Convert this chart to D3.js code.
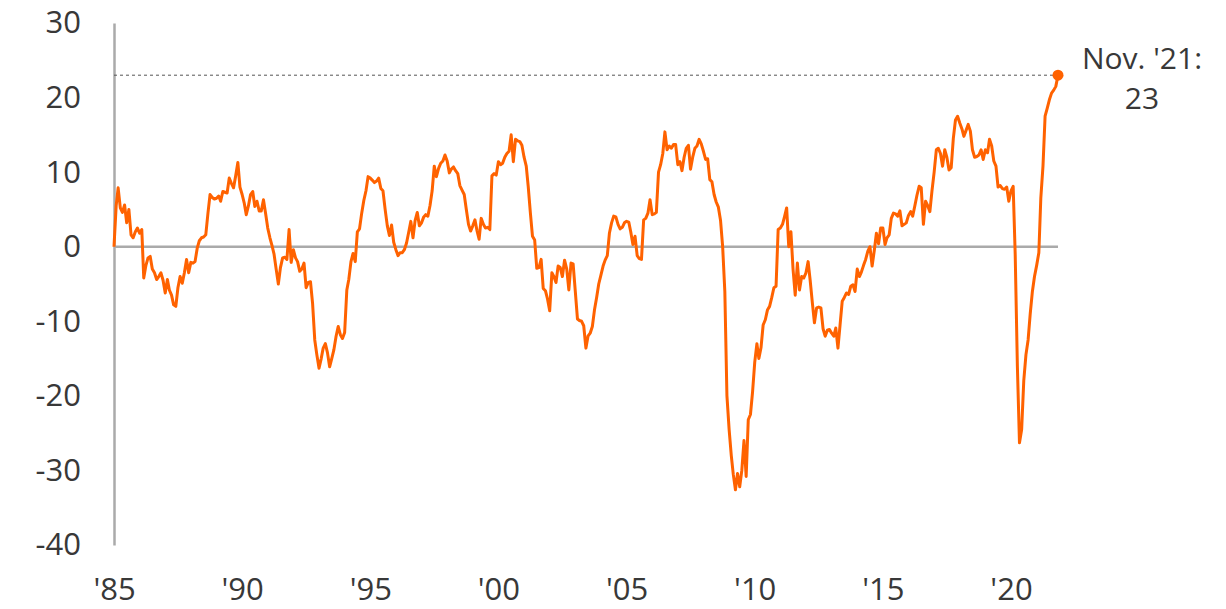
<!DOCTYPE html>
<html>
<head>
<meta charset="utf-8">
<script src="https://cdn.jsdelivr.net/npm/d3@7"></script>
<style>
  body { margin: 0; background: #fff; }
  svg { display: block; }
  svg text { font-family: "Open Sans", "Noto Sans", sans-serif; }
</style>
</head>
<body>
<script>
// monthly readings, Jan 1985 .. Nov 2021
var startYear = 1985;
var v1985 = [0, 5.5, 7.9, 5.2, 4.6, 5.6, 3.2, 5.0, 1.6, 1.2, 2.0, 2.5];
var v1986 = [1.8, 2.3, -4.2, -2.5, -1.5, -1.3, -3.0, -3.5, -4.4, -4.0, -3.5, -4.5];
var v1987 = [-6.2, -4.4, -5.8, -6.5, -7.8, -8.0, -5.5, -4.0, -4.9, -3.5, -1.7, -3.5];
var v1988 = [-2.1, -2.2, -2.0, -0.2, 0.8, 1.2, 1.3, 1.6, 4.5, 7.0, 6.6, 6.4];
var v1989 = [6.5, 6.8, 6.1, 7.4, 7.3, 7.2, 9.2, 8.5, 7.9, 9.5, 11.3, 8.0];
var v1990 = [7.0, 5.8, 4.3, 5.5, 7.0, 7.4, 5.4, 6.1, 4.8, 4.8, 6.3, 4.5];
var v1991 = [2.5, 1.2, 0.2, -1.0, -3.0, -5.0, -2.8, -1.5, -1.4, -1.7, 2.3, -2.1];
var v1992 = [-0.4, -1.5, -2.0, -3.3, -3.0, -2.2, -5.5, -4.8, -4.7, -7.6, -12.5, -14.5];
var v1993 = [-16.3, -15.0, -13.6, -13.0, -14.2, -16.1, -15.0, -13.8, -12.0, -10.7, -11.8, -12.3];
var v1994 = [-11.5, -5.8, -4.4, -2.0, -0.9, -2.0, 2.0, 2.4, 4.5, 6.2, 7.5, 9.4];
var v1995 = [9.2, 8.9, 8.6, 8.8, 9.2, 7.8, 7.5, 5.0, 2.8, 1.5, 2.9, 0.6];
var v1996 = [-0.4, -1.2, -0.8, -0.8, -0.4, 0.5, 1.9, 3.4, 1.2, 3.5, 4.6, 2.8];
var v1997 = [3.2, 4.0, 4.3, 4.1, 5.5, 7.5, 10.8, 9.4, 10.5, 11.2, 11.5, 12.3];
var v1998 = [11.5, 9.9, 10.4, 10.7, 10.2, 9.8, 8.2, 7.6, 7.0, 5.0, 3.0, 2.1];
var v1999 = [2.8, 3.6, 2.2, 1.0, 3.8, 3.0, 2.5, 2.6, 2.3, 9.5, 9.8, 9.6];
var v2000 = [11.4, 11.0, 11.2, 12.0, 12.5, 12.8, 15.0, 11.4, 14.4, 14.2, 14.1, 13.6];
var v2001 = [12.0, 10.8, 8.1, 4.5, 1.4, 0.9, -2.9, -2.8, -1.7, -5.6, -5.9, -7.0];
var v2002 = [-8.6, -3.5, -4.0, -4.8, -2.6, -2.8, -4.0, -1.8, -3.0, -5.8, -2.2, -2.3];
var v2003 = [-6.0, -9.7, -9.9, -10.0, -10.6, -13.6, -12.0, -11.6, -10.7, -8.5, -6.8, -5.0];
var v2004 = [-3.8, -2.6, -1.8, -1.2, 1.8, 3.2, 4.1, 4.0, 3.0, 2.4, 2.6, 3.2];
var v2005 = [3.4, 3.3, 2.0, 0.3, 1.4, -1.2, -1.6, -1.7, 3.6, 3.8, 4.5, 6.3];
var v2006 = [4.3, 4.4, 4.6, 10.0, 11.0, 12.5, 15.4, 13.0, 13.5, 13.2, 13.7, 13.7];
var v2007 = [11.0, 11.4, 10.2, 12.0, 13.2, 13.6, 10.4, 12.0, 13.2, 13.5, 14.4, 13.8];
var v2008 = [12.8, 11.7, 11.8, 9.0, 8.7, 7.0, 6.0, 5.3, 3.5, 0.0, -6.0, -20.0];
var v2009 = [-24.5, -28.0, -30.5, -32.6, -30.4, -32.2, -30.0, -26.0, -30.8, -23.2, -22.5, -19.5];
var v2010 = [-15.5, -13.0, -15.0, -13.5, -10.5, -9.8, -8.5, -8.0, -6.8, -5.5, -5.3, 2.3];
var v2011 = [2.5, 3.0, 4.0, 5.2, 0.0, 2.0, -3.0, -6.5, -2.2, -5.8, -4.0, -4.2];
var v2012 = [-3.5, -2.0, -4.5, -7.5, -10.2, -8.2, -8.1, -8.2, -11.0, -12.0, -11.2, -11.1];
var v2013 = [-11.6, -12.0, -10.9, -13.6, -10.5, -7.3, -6.8, -6.2, -6.4, -5.3, -5.1, -6.0];
var v2014 = [-3.0, -4.0, -3.4, -2.5, -1.7, -0.6, 0.0, -2.6, -0.5, 1.8, 0.4, 2.5];
var v2015 = [2.5, 0.3, 1.2, 1.6, 3.8, 4.5, 4.4, 4.1, 4.8, 2.8, 3.0, 3.2];
var v2016 = [4.2, 4.7, 4.1, 5.5, 6.9, 8.1, 7.9, 3.0, 6.1, 5.5, 4.7, 7.5];
var v2017 = [10.0, 13.0, 13.2, 12.5, 10.8, 13.0, 12.0, 10.3, 10.6, 14.5, 17.0, 17.5];
var v2018 = [16.6, 15.8, 14.8, 15.6, 16.4, 15.5, 13.0, 12.0, 12.1, 12.3, 13.0, 11.7];
var v2019 = [13.0, 12.6, 14.4, 13.5, 11.5, 10.8, 8.0, 8.2, 7.8, 7.7, 8.0, 6.1];
var v2020 = [7.5, 8.1, -1.0, -16.0, -26.3, -24.5, -18.0, -14.5, -12.5, -9.0, -6.0, -4.0];
var v2021 = [-2.5, -0.8, 6.5, 10.8, 17.5, 18.6, 19.7, 20.6, 21.0, 21.5, 23];

var yTicks = [-40, -30, -20, -10, 0, 10, 20, 30];
var xTickYears = [1985, 1990, 1995, 2000, 2005, 2010, 2015, 2020];
var lastLabel = ["Nov. '21:", "23"];

var allYears = [v1985, v1986, v1987, v1988, v1989, v1990, v1991, v1992, v1993, v1994,
    v1995, v1996, v1997, v1998, v1999, v2000, v2001, v2002, v2003, v2004, v2005,
    v2006, v2007, v2008, v2009, v2010, v2011, v2012, v2013, v2014, v2015, v2016,
    v2017, v2018, v2019, v2020, v2021];

var data = [];
allYears.forEach(function(arr, i) {
    arr.forEach(function(v, m) {
        data.push({ date: new Date(startYear + i, m, 1), value: v });
    });
});
var last = data[data.length - 1];

var width = 1226;
var height = 609;
var font = '"Open Sans", "Noto Sans", sans-serif';
var fontSize = "31px";
var textColour = "#383838";

var svg = d3.select("body")
    .append("svg")
    .attr("width", width)
    .attr("height", height);

var x = d3.scaleTime()
    .domain([data[0].date, last.date])
    .range([114, 1058]);

var y = d3.scaleLinear()
    .domain([-40, 30])
    .range([545, 23]);

// y axis (plain hyphen for negatives, like the original)
var yAxis = svg.append("g")
    .attr("transform", "translate(114,0)")
    .call(d3.axisLeft(y)
        .tickValues(yTicks)
        .tickFormat(function(d) { return String(d); })
        .tickSize(0)
        .tickPadding(33));
yAxis.attr("font-family", font);
yAxis.select(".domain").attr("stroke", "#aaaaaa").attr("stroke-width", 2.5);
yAxis.selectAll("text")
    .attr("fill", textColour)
    .style("font-size", fontSize);

// x axis
var xAxis = svg.append("g")
    .attr("transform", "translate(0,545)")
    .call(d3.axisBottom(x)
        .tickValues(xTickYears.map(function(yr) { return new Date(yr, 0, 1); }))
        .tickFormat(d3.timeFormat("'%y"))
        .tickSize(0));
xAxis.attr("font-family", font);
xAxis.select(".domain").remove();
xAxis.selectAll("text")
    .attr("y", 55)
    .attr("dy", null)
    .attr("fill", textColour)
    .style("font-size", fontSize);

// zero line
svg.append("line")
    .attr("x1", x(data[0].date))
    .attr("x2", x(last.date))
    .attr("y1", y(0))
    .attr("y2", y(0))
    .attr("stroke", "#aaaaaa")
    .attr("stroke-width", 2.5);

// dashed reference at last value
svg.append("line")
    .attr("x1", x(data[0].date))
    .attr("x2", x(last.date))
    .attr("y1", y(last.value))
    .attr("y2", y(last.value))
    .attr("stroke", "#555")
    .attr("stroke-width", 1)
    .attr("stroke-dasharray", "3,3");

// the series
var line = d3.line()
    .x(function(d) { return x(d.date); })
    .y(function(d) { return y(d.value); });

svg.append("path")
    .datum(data)
    .attr("fill", "none")
    .attr("stroke", "#ff6200")
    .attr("stroke-width", 3)
    .attr("stroke-linejoin", "round")
    .attr("d", line);

svg.append("circle")
    .attr("cx", x(last.date))
    .attr("cy", y(last.value))
    .attr("r", 5.5)
    .attr("fill", "#ff6200");

// end label, two lines centred under each other
svg.selectAll(".end-label")
    .data(lastLabel)
    .enter()
    .append("text")
    .attr("class", "end-label")
    .attr("x", 1142)
    .attr("y", function(d, i) { return 69 + i * 40; })
    .attr("text-anchor", "middle")
    .attr("fill", textColour)
    .style("font-size", "30px")
    .text(function(d) { return d; });
</script>
</body>
</html>
